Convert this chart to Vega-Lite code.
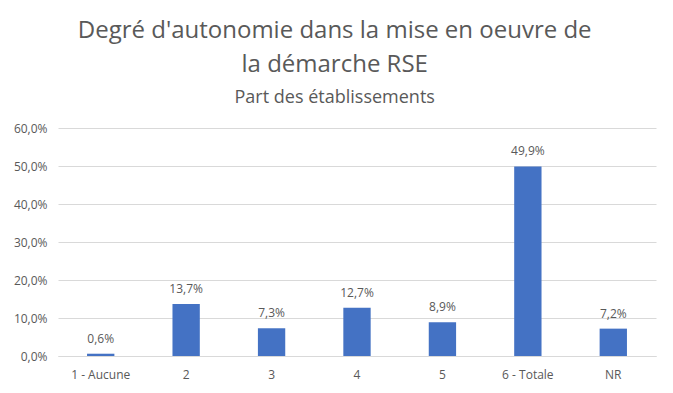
{
  "$schema": "https://vega.github.io/schema/vega-lite/v6.json",
  "autosize": {"type": "none"},
  "width": 598,
  "height": 228,
  "padding": {"left": 58, "top": 128, "right": 17, "bottom": 37},
  "background": "white",
  "title": {
    "text": ["Degré d'autonomie dans la mise en oeuvre de", "la démarche RSE"],
    "subtitle": "Part des établissements",
    "anchor": "middle",
    "frame": "bounds",
    "font": "Open Sans",
    "fontSize": 24,
    "fontWeight": "normal",
    "color": "#595959",
    "lineHeight": 34,
    "subtitleFont": "Open Sans",
    "subtitleFontSize": 18,
    "subtitleColor": "#595959",
    "subtitlePadding": 12,
    "offset": 15
  },
  "data": {
    "values": [
      {"cat": "1 - Aucune", "val": 0.006},
      {"cat": "2", "val": 0.137},
      {"cat": "3", "val": 0.073},
      {"cat": "4", "val": 0.127},
      {"cat": "5", "val": 0.089},
      {"cat": "6 - Totale", "val": 0.499},
      {"cat": "NR", "val": 0.072}
    ]
  },
  "encoding": {
    "x": {
      "field": "cat", "type": "nominal", "sort": null,
      "scale": {"paddingInner": 0.68, "paddingOuter": 0.34},
      "axis": {"title": null, "labelAngle": 0, "ticks": false, "domainColor": "#d9d9d9", "labelPadding": 13}
    },
    "y": {
      "field": "val", "type": "quantitative",
      "scale": {"domain": [0, 0.6]},
      "axis": {"title": null, "format": ".1%", "values": [0, 0.1, 0.2, 0.3, 0.4, 0.5, 0.6], "domain": false, "ticks": false, "gridColor": "#d9d9d9", "labelPadding": 11}
    }
  },
  "layer": [
    {"mark": {"type": "bar", "color": "#4472C4"}},
    {"mark": {"type": "text", "baseline": "bottom", "dy": -8, "font": "Open Sans", "fontSize": 12, "color": "#595959"},
     "encoding": {"text": {"field": "val", "type": "quantitative", "format": ".1%"}}}
  ],
  "config": {
    "locale": {"number": {"decimal": ",", "thousands": " ", "grouping": [3], "currency": ["", " €"], "percent": "%"}},
    "view": {"stroke": null},
    "axis": {"labelFont": "Open Sans", "labelFontSize": 12, "labelColor": "#595959"}
  }
}
